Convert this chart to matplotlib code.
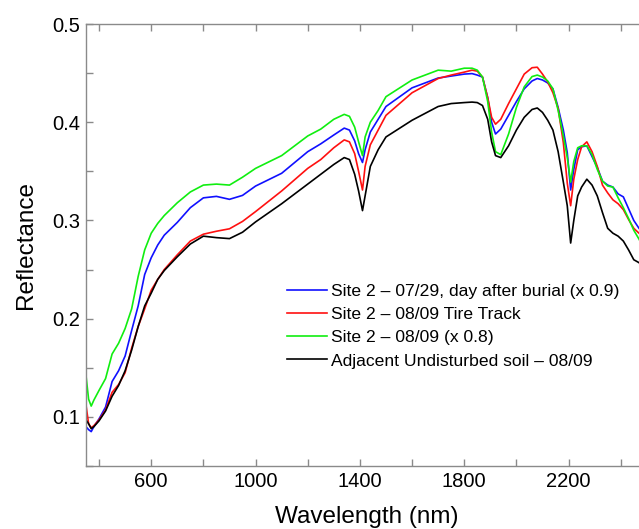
import matplotlib
matplotlib.use("Agg")
import matplotlib.pyplot as plt
from matplotlib.ticker import FixedLocator

plt.rcParams['font.family'] = ['Liberation Sans', 'DejaVu Sans']

wavelength = [350, 360, 370, 380, 400, 425, 450, 475, 500, 525,
              550, 575, 600, 625, 650, 700, 750, 800, 850, 900,
              950, 1000, 1100, 1200, 1250, 1300, 1340, 1360, 1380, 1395,
              1410, 1420, 1440, 1470, 1500, 1600, 1700, 1750, 1800, 1830,
              1850, 1870, 1890, 1905, 1920, 1940, 1970, 2000, 2030, 2060,
              2080, 2100, 2120, 2140, 2160, 2180, 2195, 2208, 2220, 2235,
              2250, 2270, 2290, 2310, 2330, 2350, 2370, 2390, 2410, 2430,
              2450, 2470, 2500]

site2_0729 = [0.090, 0.087, 0.085, 0.090, 0.098, 0.110, 0.136, 0.147, 0.162, 0.188,
              0.213, 0.245, 0.262, 0.275, 0.285, 0.298, 0.313, 0.323, 0.3245, 0.3215,
              0.3255, 0.335, 0.348, 0.370, 0.378, 0.387, 0.394, 0.392, 0.381, 0.368,
              0.359, 0.372, 0.390, 0.403, 0.416, 0.435, 0.445, 0.447, 0.449, 0.4495,
              0.448, 0.446, 0.425, 0.400, 0.388, 0.393, 0.407, 0.421, 0.434, 0.442,
              0.4445, 0.443, 0.440, 0.434, 0.415, 0.392, 0.369, 0.331, 0.352, 0.372,
              0.375, 0.376, 0.365, 0.354, 0.340, 0.336, 0.334, 0.327, 0.324, 0.312,
              0.300, 0.292, 0.282]

tire_track = [0.112, 0.093, 0.089, 0.091, 0.097, 0.107, 0.125, 0.133, 0.145, 0.170,
              0.192, 0.210, 0.229, 0.240, 0.250, 0.265, 0.279, 0.286, 0.289, 0.2915,
              0.299, 0.309, 0.330, 0.353, 0.362, 0.374, 0.382, 0.380, 0.368, 0.350,
              0.331, 0.355, 0.377, 0.392, 0.407, 0.430, 0.4445, 0.448, 0.451, 0.453,
              0.452, 0.446, 0.425, 0.405, 0.398, 0.403, 0.419, 0.434, 0.449, 0.4555,
              0.456, 0.449, 0.441, 0.430, 0.414, 0.379, 0.338, 0.315, 0.342, 0.362,
              0.375, 0.380, 0.370, 0.355, 0.336, 0.328, 0.321, 0.317, 0.311, 0.301,
              0.292, 0.287, 0.282]

site2_0809 = [0.142, 0.118, 0.111, 0.117, 0.127, 0.139, 0.164, 0.175, 0.190, 0.210,
              0.243, 0.270, 0.287, 0.297, 0.305, 0.318, 0.329, 0.336, 0.337, 0.336,
              0.344, 0.353, 0.366, 0.386, 0.393, 0.403, 0.408, 0.406, 0.395, 0.380,
              0.366, 0.385, 0.400, 0.412, 0.426, 0.443, 0.453, 0.452, 0.455, 0.455,
              0.453, 0.446, 0.421, 0.390, 0.370, 0.367, 0.388, 0.415, 0.436, 0.4465,
              0.448, 0.446, 0.442, 0.434, 0.412, 0.386, 0.364, 0.339, 0.360, 0.374,
              0.376, 0.376, 0.367, 0.352, 0.340, 0.335, 0.334, 0.323, 0.313, 0.302,
              0.290, 0.281, 0.265]

undisturbed = [0.097, 0.093, 0.088, 0.090, 0.096, 0.106, 0.121, 0.132, 0.147, 0.168,
               0.192, 0.213, 0.226, 0.240, 0.249, 0.263, 0.276, 0.284, 0.2825, 0.2815,
               0.288, 0.2985, 0.317, 0.337, 0.347, 0.357, 0.364, 0.362, 0.347, 0.330,
               0.310, 0.325, 0.355, 0.372, 0.385, 0.402, 0.416, 0.419, 0.420, 0.4205,
               0.420, 0.417, 0.403, 0.380, 0.366, 0.364, 0.376, 0.392, 0.405, 0.413,
               0.4145, 0.410, 0.402, 0.392, 0.370, 0.339, 0.315, 0.277, 0.300, 0.325,
               0.334, 0.342, 0.336, 0.325, 0.308, 0.292, 0.287, 0.284, 0.279, 0.270,
               0.260, 0.257, 0.250]

labels = ["Site 2 \u2013 07/29, day after burial (x 0.9)",
          "Site 2 \u2013 08/09 Tire Track",
          "Site 2 \u2013 08/09 (x 0.8)",
          "Adjacent Undisturbed soil \u2013 08/09"]
colors = ["#1010ff", "#ff1010", "#10ee10", "#000000"]
series = [site2_0729, tire_track, site2_0809, undisturbed]

fig = plt.figure(figsize=(6.39, 5.29), dpi=100)
ax = fig.add_axes([86/639, 63/529, 553/639, 442/529])

for vals, c, lab in zip(series, colors, labels):
    ax.plot(wavelength, vals, color=c, lw=1.2, label=lab)

ax.set_xlim(350, 2470)
ax.set_ylim(0.05, 0.5)

ax.xaxis.set_major_locator(FixedLocator([600, 1000, 1400, 1800, 2200]))
ax.xaxis.set_minor_locator(FixedLocator([400, 800, 1200, 1600, 2000, 2400]))
ax.yaxis.set_major_locator(FixedLocator([0.1, 0.2, 0.3, 0.4, 0.5]))
ax.yaxis.set_minor_locator(FixedLocator([0.05, 0.15, 0.25, 0.35, 0.45]))
ax.yaxis.set_major_formatter(plt.FuncFormatter(lambda v, p: f"{v:.1f}"))

spine_col = "#8a8a8a"
for s in ['left', 'bottom', 'top']:
    ax.spines[s].set_color(spine_col)
    ax.spines[s].set_linewidth(1.0)
ax.spines['right'].set_visible(False)

ax.tick_params(which='both', direction='in', top=True, bottom=True, left=True,
               right=False, color=spine_col, width=1.0, length=5)
ax.tick_params(axis='both', which='major', labelsize=14.5, pad=4)

ax.set_xlabel("Wavelength (nm)", fontsize=17.5)
ax.set_ylabel("Reflectance", fontsize=17.5)
ax.xaxis.set_label_coords((367 - 86) / 553, -0.0906)
ax.yaxis.set_label_coords(-0.088, 0.5)

leg = ax.legend(loc='upper left', bbox_to_anchor=(287/639, 0.4643),
                bbox_transform=fig.transFigure, frameon=False,
                fontsize=12.6, handlelength=2.29, handletextpad=0.23,
                labelspacing=0.46, borderpad=0, borderaxespad=0)

fig.savefig("out.png", dpi=100)
